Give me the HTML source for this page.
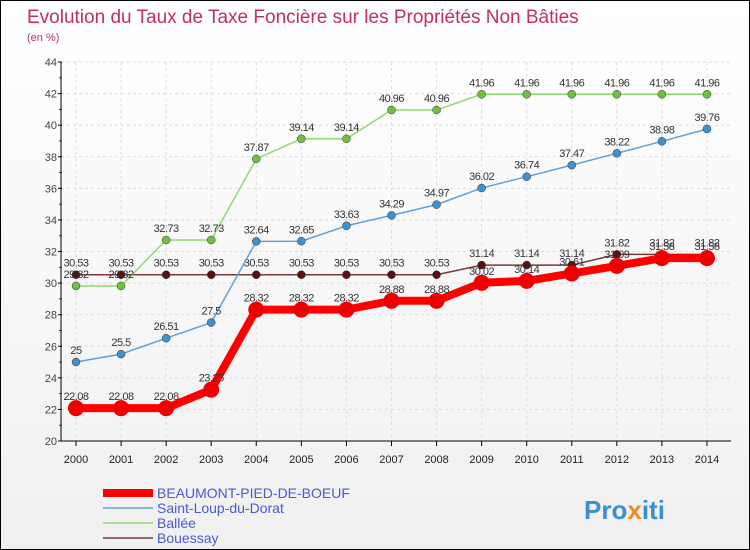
<!DOCTYPE html>
<html><head><meta charset="utf-8"><style>
body{margin:0;background:#fff}
#wrap{position:relative;width:748px;height:548px;border:1px solid #000;background:linear-gradient(#fff,#f0f0f0);font-family:"Liberation Sans",sans-serif;overflow:hidden}
</style></head><body>
<div id="wrap">
<svg id="chart" width="748" height="548">
<text x="26" y="22" font-size="19" fill="#c0305a">Evolution du Taux de Taxe Foncière sur les Propriétés Non Bâties</text>
<text x="26" y="40" font-size="11" fill="#c0305a">(en %)</text>
<g id="grid"></g><g id="axes"></g><g id="series"></g><g id="legend"></g>
<text x="583" y="518" font-size="26" font-weight="bold" fill="#3a8fd0">Pro<tspan fill="#f08a20">x</tspan>iti</text>
</svg>
</div>
<script>
const years=[2000,2001,2002,2003,2004,2005,2006,2007,2008,2009,2010,2011,2012,2013,2014];
const yTicks=[20,22,24,26,28,30,32,34,36,38,40,42,44];
const beaumont=[22.08,22.08,22.08,23.25,28.32,28.32,28.32,28.88,28.88,30.02,30.14,30.61,31.09,31.58,31.58];
const saintLoup=[25,25.5,26.51,27.5,32.64,32.65,33.63,34.29,34.97,36.02,36.74,37.47,38.22,38.98,39.76];
const ballee=[29.82,29.82,32.73,32.73,37.87,39.14,39.14,40.96,40.96,41.96,41.96,41.96,41.96,41.96,41.96];
const bouessay=[30.53,30.53,30.53,30.53,30.53,30.53,30.53,30.53,30.53,31.14,31.14,31.14,31.82,31.82,31.82];
const seriesNames=["BEAUMONT-PIED-DE-BOEUF","Saint-Loup-du-Dorat","Ballée","Bouessay"];
const NS="http://www.w3.org/2000/svg";
const X=i=>75+i*45.07, Y=v=>440-(v-20)*15.79;
function mk(p,t,a){const e=document.createElementNS(NS,t);for(const k in a)e.setAttribute(k,a[k]);p.appendChild(e);return e;}
const grid=document.getElementById('grid'),axes=document.getElementById('axes'),ser=document.getElementById('series'),leg=document.getElementById('legend');
yTicks.forEach(t=>{
 const l=mk(grid,'line',{x1:60,x2:730,y1:Y(t),y2:Y(t),stroke:'#ddd','stroke-dasharray':'3,3'});
 
 
 const tx=mk(axes,'text',{x:56,y:Y(t)+4,'font-size':11,fill:'#444','text-anchor':'end'});tx.textContent=t;
 
 
 mk(axes,'line',{x1:57,x2:61,y1:Y(t),y2:Y(t),stroke:'#000'});
 if(t<44)mk(axes,'line',{x1:58,x2:61,y1:Y(t+1),y2:Y(t+1),stroke:'#d00'});
});
years.forEach((y,i)=>{
 mk(grid,'line',{x1:X(i),x2:X(i),y1:61,y2:440,stroke:'#ddd','stroke-dasharray':'3,3'});
 const tx=mk(axes,'text',{x:X(i),y:462,'font-size':11,fill:'#222','text-anchor':'middle'});tx.textContent=y;
 
 
 mk(axes,'line',{x1:X(i),x2:X(i),y1:440,y2:445,stroke:'#000'});
});
mk(axes,'line',{x1:60,x2:60,y1:61,y2:440,stroke:'#000'});
mk(axes,'line',{x1:60,x2:730,y1:440,y2:440,stroke:'#000'});
const defs=[[bouessay,'#7a3a3a','#5a1010',1.5,4],[ballee,'#90d870','#70c040',1.5,4],[saintLoup,'#60a0d8','#4090d0',1.5,4],[beaumont,'#ff0000','#ee0000',8,8]];
defs.forEach(([d,c,mc,w,r])=>{
 const p=mk(ser,'polyline',{points:d.map((v,i)=>X(i)+','+Y(v)).join(' '),fill:'none',stroke:c,'stroke-width':w,'stroke-linejoin':'round'});
 
 
 d.forEach((v,i)=>{
  const m=mk(ser,'circle',{cx:X(i),cy:Y(v),r:r,fill:mc,stroke:'#333','stroke-width':r>5?0:0.5});
  
  
  const t=mk(ser,'text',{x:X(i),y:Y(v)-8,'font-size':11,fill:'#333','text-anchor':'middle','letter-spacing':'-0.5'});t.textContent=v;
  
  
 });
});
const lg=[['#ff0000',8],['#60a0d8',1.5],['#90d870',1.5],['#7a3a3a',1.5]];
lg.forEach(([c,w],i)=>{
 const y=492+i*15;
 mk(leg,'line',{x1:102,x2:152,y1:y,y2:y,stroke:c,'stroke-width':w});
 const t=mk(leg,'text',{x:156,y:y+5,'font-size':14,fill:'#4a5ad0'});t.textContent=seriesNames[i];
 
 
});
</script>
</body></html>
